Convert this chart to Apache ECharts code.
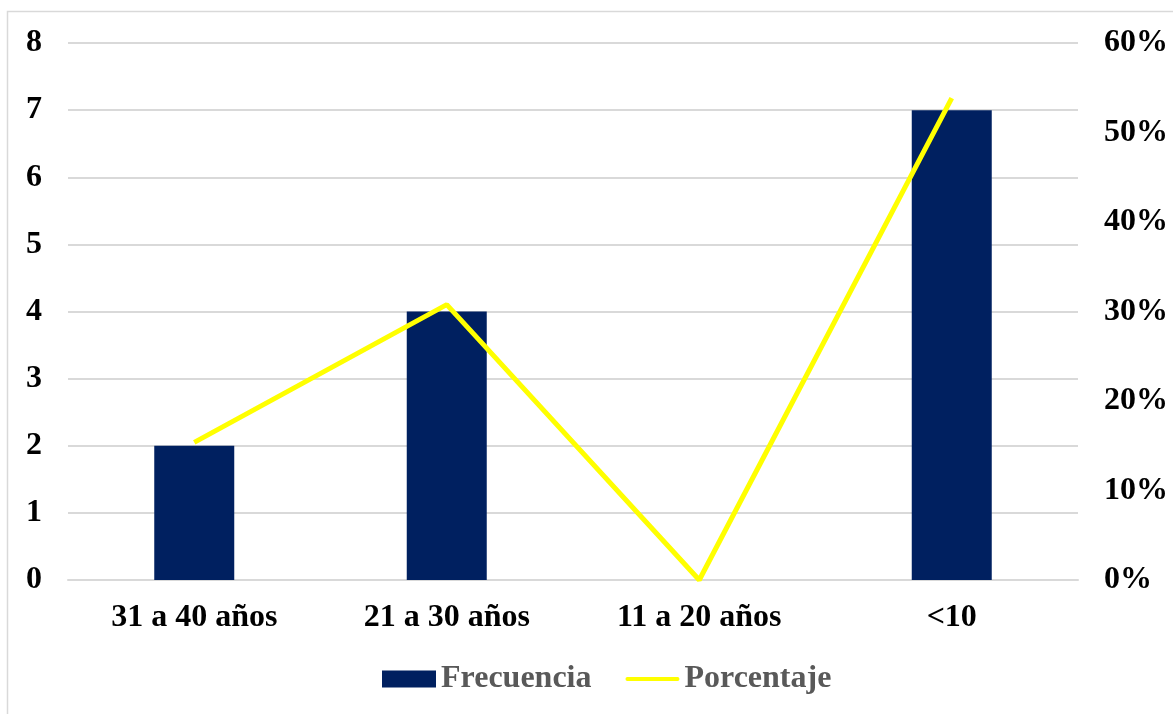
<!DOCTYPE html>
<html><head><meta charset="utf-8">
<script src="https://cdn.jsdelivr.net/npm/echarts@6/dist/echarts.min.js"></script>
<style>html,body{margin:0;padding:0;background:#fff}#c{width:1173px;height:714px}</style>
</head><body><div id="c"></div>
<script>
const categories = ['31 a 40 años', '21 a 30 años', '11 a 20 años', '<10'];
const frecuencia = [2, 4, 0, 7];
const porcentaje = [15.38, 30.77, 0, 53.85];
const leftTicks = [0, 8, 1];
const rightTicks = [0, 60, 10];

const chart = echarts.init(document.getElementById('c'));
const font = '"Liberation Serif", "Times New Roman", serif';
chart.setOption({
  animation: false,
  backgroundColor: '#fff',
  graphic: [{ type: 'rect', shape: { x: 7.5, y: 11.5, width: 1200, height: 760 }, style: { fill: 'none', stroke: '#d9d9d9', lineWidth: 1.5 }, silent: true }],
  grid: { left: 68, right: 95, top: 43, bottom: 134 },
  legend: {
    bottom: 14, left: 377, itemWidth: 54, itemHeight: 17, itemGap: 34, itemTextGap: 4,
    textStyle: { fontFamily: font, fontSize: 32, fontWeight: 'bold', color: '#595959' },
    data: [
      { name: 'Frecuencia', icon: 'rect' },
      { name: 'Porcentaje', icon: 'path://M0,0L0.01,0M1,6.5L53,6.5A2,2,0,0,1,53,10.5L1,10.5A2,2,0,0,1,1,6.5ZM54,17L54,16.99' }
    ]
  },
  xAxis: {
    type: 'category', data: categories,
    axisLine: { lineStyle: { color: '#d9d9d9', width: 2 } }, axisTick: { show: false },
    axisLabel: { fontFamily: font, fontSize: 32, fontWeight: 'bold', color: '#000', margin: 22 }
  },
  yAxis: [{
    type: 'value', min: leftTicks[0], max: leftTicks[1], interval: leftTicks[2],
    axisLine: { show: false }, axisTick: { show: false },
    splitLine: { lineStyle: { color: '#d9d9d9', width: 2 } },
    axisLabel: { fontFamily: font, fontSize: 32, fontWeight: 'bold', color: '#000', margin: 26 }
  }, {
    type: 'value', min: rightTicks[0], max: rightTicks[1], interval: rightTicks[2],
    axisLine: { show: false }, axisTick: { show: false }, splitLine: { show: false },
    axisLabel: { fontFamily: font, fontSize: 32, fontWeight: 'bold', color: '#000', margin: 26, formatter: '{value}%' }
  }],
  series: [{
    name: 'Frecuencia', type: 'bar', data: frecuencia, barWidth: 80,
    itemStyle: { color: '#002060' }
  }, {
    name: 'Porcentaje', type: 'line', yAxisIndex: 1, data: porcentaje,
    symbol: 'none', lineStyle: { color: '#FFFF00', width: 5 }, itemStyle: { color: '#FFFF00' }
  }]
});
</script></body></html>
